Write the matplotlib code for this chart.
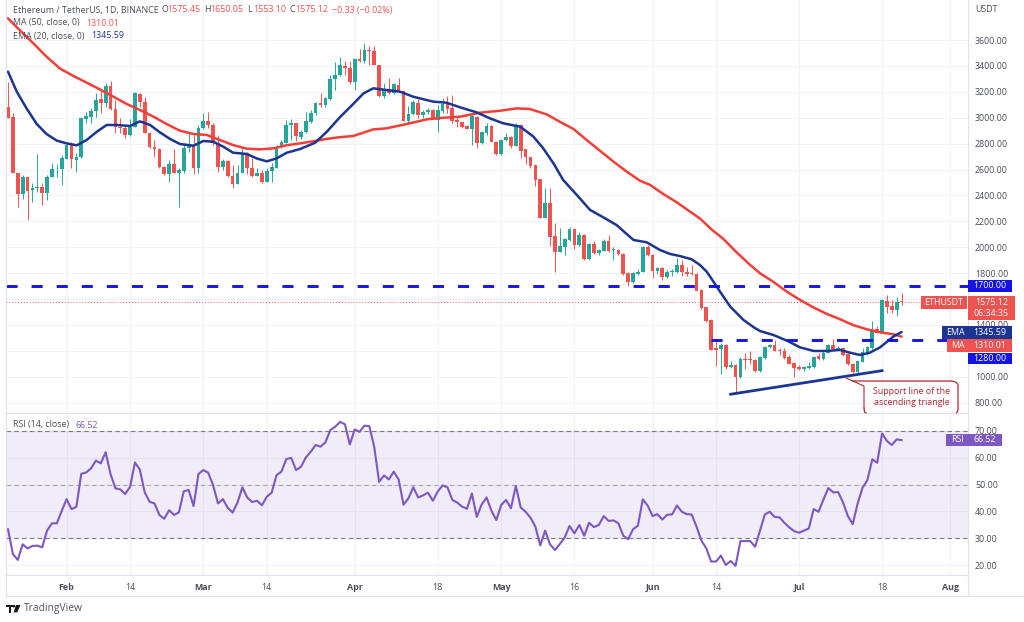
import matplotlib
matplotlib.use('Agg')
import matplotlib.pyplot as plt
from matplotlib.patches import Rectangle, Polygon, Circle, PathPatch
from matplotlib.path import Path

plt.rcParams['font.family'] = ['Open Sans', 'DejaVu Sans']

# candles, one per day from Jan 20
opens = [3085,3003,2570,2408,2540,2439,2455,2462,2421,2545,
         2601,2605,2681,2789,2673,2694,2993,3008,3054,3142,
         3114,3245,3065,2926,2918,2866,2926,3183,3121,2885,
         2776,2758,2617,2565,2640,2576,2591,2763,2789,2609,
         2918,2974,2944,2802,2622,2666,2550,2488,2576,2725,
         2609,2553,2570,2506,2590,2614,2771,2807,2944,2957,
         2854,2892,2967,3039,3116,3098,3142,3296,3330,3399,
         3386,3276,3453,3438,3523,3517,3407,3168,3224,3188,
         3253,3206,2977,3025,3116,3021,3047,3059,2982,3052,
         3111,3077,2982,2964,2933,2915,3008,2802,2885,2938,
         2815,2720,2825,2854,2782,2944,2755,2694,2635,2524,
         2228,2344,2087,1961,2005,2056,2143,2017,2095,1912,
         2022,1953,1974,2048,1976,1979,1948,1799,1729,1791,
         1812,2005,1940,1819,1837,1773,1808,1812,1863,1812,
         1804,1794,1670,1537,1439,1220,1212,1246,1073,1092,
         996,1135,1135,1130,1048,1145,1228,1246,1205,1200,
         1150,1104,1073,1058,1067,1073,1160,1135,1187,1246,
         1212,1220,1174,1099,1035,1115,1191,1220,1367,1341,
         1588,1547,1516,1575.45]
highs = [3278,3034,2570,2558,2540,2498,2720,2498,2558,2648,
         2640,2712,2815,2815,2725,3008,3047,3072,3188,3214,
         3265,3286,3137,2995,2944,2987,3195,3188,3162,2893,
         2828,2764,2627,2673,2756,2610,2802,2879,2866,2944,
         3039,3047,2962,2866,2679,2673,2635,2635,2776,2738,
         2686,2609,2596,2609,2648,2789,2828,2982,2990,2962,
         2905,3047,3060,3124,3188,3162,3330,3433,3470,3440,
         3440,3465,3530,3580,3555,3555,3407,3265,3305,3265,
         3310,3210,3090,3140,3145,3060,3075,3070,3100,3150,
         3165,3175,3000,2970,2940,3020,3015,2895,2960,2945,
         2820,2835,2885,2860,2960,2955,2760,2700,2640,2530,
         2460,2455,2190,2145,2070,2155,2150,2120,2100,2035,
         2050,1990,2060,2095,2000,1985,1955,1805,1805,1830,
         2010,2015,1945,1850,1850,1825,1830,1920,1902,1850,
         1860,1800,1680,1540,1445,1285,1260,1255,1120,1100,
         1150,1185,1200,1140,1160,1240,1255,1285,1220,1220,
         1170,1110,1090,1080,1110,1160,1180,1195,1255,1290,
         1235,1230,1180,1105,1125,1225,1235,1430,1395,1600,
         1635,1590,1615,1650.05]
lows = [2995,2570,2308,2370,2210,2352,2430,2326,2365,2540,
        2545,2480,2680,2610,2578,2690,2957,2962,3003,3034,
        3085,3060,2880,2885,2841,2860,2925,3085,2880,2769,
        2699,2610,2558,2501,2575,2308,2570,2738,2563,2576,
        2915,2918,2790,2578,2596,2545,2455,2485,2570,2565,
        2545,2550,2498,2500,2506,2609,2764,2802,2828,2823,
        2833,2885,2957,3021,3085,3085,3137,3214,3320,3330,
        3258,3214,3430,3425,3410,3405,3160,3150,3180,3180,
        3195,2975,2960,3020,3000,3000,3025,2990,2890,3040,
        3040,2960,2930,2920,2910,2790,2770,2795,2870,2810,
        2715,2715,2820,2770,2780,2690,2640,2610,2470,2225,
        2225,2010,1805,1960,1943,2050,1990,2010,1905,1905,
        1945,1940,1970,1965,1905,1940,1785,1700,1725,1785,
        1810,1930,1765,1790,1745,1760,1780,1800,1780,1780,
        1785,1660,1525,1425,1205,1080,1020,1060,1065,880,
        990,1060,1100,1040,1040,1140,1220,1195,1170,1140,
        1095,1000,1050,1045,1060,1065,1130,1130,1180,1205,
        1205,1160,1090,1030,1025,1110,1170,1215,1335,1335,
        1490,1490,1470,1553.10]
closes = [2995,2570,2408,2545,2434,2457,2462,2421,2545,2601,
          2605,2686,2789,2679,2699,2995,3013,3054,3137,3114,
          3245,3065,2926,2918,2866,2931,3188,3121,2885,2776,
          2758,2622,2565,2640,2576,2596,2763,2782,2609,2918,
          2977,2944,2802,2622,2668,2550,2488,2576,2730,2609,
          2553,2570,2506,2591,2617,2776,2815,2944,2957,2859,
          2892,2977,3039,3116,3098,3150,3296,3330,3407,3386,
          3276,3453,3438,3523,3515,3407,3168,3224,3188,3260,
          3201,2977,3029,3119,3021,3047,3059,2995,3059,3106,
          3067,2977,2964,2926,2915,3013,2802,2890,2938,2815,
          2720,2828,2854,2782,2944,2745,2694,2627,2520,2228,
          2344,2082,1961,2010,2061,2143,2017,2095,1912,2025,
          1953,1979,2048,1974,1984,1945,1791,1729,1799,1812,
          2005,1940,1819,1837,1773,1812,1820,1860,1812,1794,
          1791,1665,1529,1431,1207,1205,1246,1073,1092,996,
          1135,1132,1128,1048,1150,1228,1246,1200,1197,1143,
          1099,1071,1058,1073,1084,1156,1140,1187,1246,1212,
          1223,1169,1097,1035,1120,1194,1228,1362,1341,1593,
          1542,1516,1580,1575.12]

ma_days = [0,2.5,5.2,7.9,10.6,13.4,16.1,18.8,21.6,24.3,27,29.8,32.5,35.2,38,40.7,43.4,46.1,48.9,51.6,54.3,57,59.8,62.5,65.2,
           68,70.7,74.8,77.5,81.6,85.7,88.5,92.6,96.7,100.8,104.2,106.9,110.3,113,115.8,118.5,121.2,124,126.7,129.4,
           131.5,134.2,137,139.7,141.7,144.1,146.5,149.2,152,154,156.7,159.5,162.2,165,167.7,170.4,173,175.9,178.6,181.3,183]
ma_vals = [3767,3672,3574,3471,3381,3322,3271,3219,3162,3106,3060,3008,2951,2900,2874,2867,2828,2789,2761,2756,2763,2787,2802,2818,2836,
           2850,2859,2910,2918,2951,2987,2998,3008,3039,3054,3072,3067,3026,2969,2913,2828,2746,2661,2584,2514,
           2481,2411,2346,2274,2222,2137,2064,1961,1863,1799,1734,1657,1593,1534,1485,1444,1400,1366,1343,1328,1310.01]
ema_days = [0,1.8,3.8,5.9,7.9,10,12,14.1,16.1,18.2,20.2,22.3,25,27,29.1,31.1,33.2,35.2,38,40,42,44.1,46.1,48.9,50.9,53,55,57.1,59.8,62.9,65.3,
            68,70.7,72.8,74.8,77.5,80.3,83,87.1,89.8,92.6,96,98.7,101.4,104.9,107.6,109.6,111.7,113.7,116.5,119.2,121.9,124.6,128.1,130.8,
            133.5,135.6,137.6,140,141.7,143.1,144.1,145.8,147.9,150.6,152.8,154,156.7,159.5,162.2,165,167.7,170.4,172.4,174.5,176.5,178.6,181.3,183]
ema_vals = [3356,3201,3072,2951,2874,2823,2802,2787,2828,2892,2944,2944,2936,2972,2944,2887,2836,2797,2784,2820,2815,2776,2730,2720,2686,2663,2686,2730,2758,2807,2892,
            3005,3106,3188,3227,3214,3201,3162,3124,3116,3080,3041,2995,2957,2931,2854,2764,2648,2519,2403,2288,2231,2172,2056,2038,
            1979,1948,1932,1907,1863,1811,1755,1658,1542,1439,1380,1353,1323,1279,1227,1199,1199,1207,1186,1168,1186,1227,1310,1345.59]

rsi = [33.4,24.2,22,27.8,26.3,27.2,27.3,26.7,32.9,35.6,
       35.6,40.2,44.6,40.9,41.7,54,54.5,56,58.9,57.9,
       62,53.9,48.6,48.2,46.5,49.2,58.2,55.6,47.1,43.6,
       43,38.7,37.3,40.5,38.7,39.7,47.5,48,42,53.9,
       55.4,54.4,49.8,43,44.6,41.4,39.6,43.3,49,45.2,
       43.5,44,42.3,45.5,47,53.5,54.8,59.5,59.9,55.4,
       56.6,60.1,62.2,64.7,64.1,65.7,70.2,71.5,73.3,72.4,
       64.9,70.5,69.6,71.9,71.7,64,51,53.4,51.9,54.8,
       51.9,42.5,44.9,49,45.2,46,47,44,47.4,49.7,
       49,44.3,43.3,41.8,41,46.7,38,42.6,45.2,40.3,
       36.8,42.4,44.3,41.2,49.5,41.5,39.9,37.7,34.4,27.4,
       32.9,27.8,25.7,27.9,30.3,34.6,31.9,35,31,35.8,
       34.2,35,38.3,36.5,36.7,35.6,31,29.7,33.4,34.7,
       44.5,42.2,38.3,39,37,38.8,38.9,42.2,39.9,39,
       38.9,34.4,29.2,26.3,21.4,21.4,23.6,20.1,21.6,19.8,
       29,29,29,26.9,32.9,38.9,39.9,38,37.8,35.8,
       34.1,32.7,32.1,32.9,33.7,40.9,39.9,44.5,48.7,47.1,
       47.2,43.4,38.3,35.3,43,48.8,51.7,59.4,58.1,69,
       66.2,64.7,66.8,66.52]

month_ticks = [12, 25, 40, 53, 71, 88, 101, 116, 132, 145, 162, 179, 193]
month_labels = ['Feb', '14', 'Mar', '14', 'Apr', '18', 'May', '16', 'Jun', '14', 'Jul', '18', 'Aug']
price_ticks = [800, 1000, 1200, 1400, 1600, 1800, 2000, 2200, 2400, 2600, 2800, 3000, 3200, 3400, 3600]
rsi_ticks = [20, 30, 40, 50, 60, 70]
resistance = 1700
neckline = 1280
last_price = 1575.12
support_days = [148, 179]
support_vals = [865, 1047]

GREEN = '#26a69a'
RED = '#ef5350'
MA_RED = '#f23f38'
NAVY = '#1c3593'
BLUE = '#1414e6'
PURPLE = '#7e57c2'
GRID = '#f2f3f7'
EDGE = '#e0e3eb'
TEXT = '#4a4e5a'

W, H = 1024, 622
fig = plt.figure(figsize=(W / 100, H / 100), dpi=100, facecolor='w')


def pane(x0, y0, x1, y1):
    return fig.add_axes([x0 / W, 1 - y1 / H, (x1 - x0) / W, (y1 - y0) / H])


ax = pane(6, 0, 968, 413)
ax2 = pane(6, 413, 968, 575)
xlim = (-0.41, 196.6)

for a in (ax, ax2):
    a.set_xlim(*xlim)
    a.set_axisbelow(True)
    a.grid(True, color=GRID, lw=0.8)
    a.yaxis.tick_right()
    a.set_xticks(month_ticks)
    a.tick_params(length=0, labelsize=6.4, labelcolor=TEXT, pad=5)
    for s in a.spines.values():
        s.set_color(EDGE)
        s.set_linewidth(0.8)

# price pane
ax.set_ylim(720, 3909)
ax.set_yticks(price_ticks)
ax.set_yticklabels(['' if p in (1200, 1600) else '%.2f' % p for p in price_ticks])
ax.tick_params(axis='x', labelbottom=False)
ax.spines['top'].set_visible(False)

days = range(len(closes))
colors = [GREEN if c >= o else RED for o, c in zip(opens, closes)]
ax.vlines(days, lows, highs, colors=colors, lw=0.7, zorder=2)
ax.bar(days, [max(abs(c - o), 6) for o, c in zip(opens, closes)],
       bottom=[min(o, c) for o, c in zip(opens, closes)], width=0.76, color=colors, zorder=3)

DASH = (0, (3.8, 4.8))
ax.plot(ma_days, ma_vals, color=MA_RED, lw=1.8, zorder=4, solid_capstyle='round')
ax.plot(ema_days, ema_vals, color=NAVY, lw=1.8, zorder=5, solid_capstyle='round')
ax.axhline(last_price, color=RED, lw=0.7, ls=(0, (1, 2)), zorder=1)
ax.axhline(resistance, color=BLUE, lw=2.1, ls=DASH, zorder=6)
ax.plot([144, xlim[1]], [neckline, neckline], color=BLUE, lw=2.1, ls=DASH, zorder=6)
ax.plot(support_days, support_vals, color=NAVY, lw=2.0, zorder=6)

# rsi pane
ax2.set_ylim(16.4, 76.6)
ax2.set_yticks(rsi_ticks)
ax2.set_yticklabels(['%.2f' % v for v in rsi_ticks])
ax2.set_xticklabels(month_labels)
for lab in ax2.get_xticklabels():
    if lab.get_text() in ('Feb', 'Mar', 'Apr', 'May', 'Jun', 'Jul', 'Aug'):
        lab.set_fontweight('bold')
ax2.tick_params(axis='x', pad=6)
ax2.axhspan(30, 70, color=PURPLE, alpha=0.11, lw=0, zorder=1)
for lvl, col in ((70, '#787b86'), (50, '#a5a7b0'), (30, '#787b86')):
    ax2.axhline(lvl, color=col, lw=0.8, ls=(0, (4, 3)), zorder=2)
ax2.plot(days, rsi, color=PURPLE, lw=1.5, zorder=3)

# overlay in image pixels for labels and the note
ov = fig.add_axes([0, 0, 1, 1], zorder=10)
ov.set_xlim(0, W)
ov.set_ylim(H, 0)
ov.axis('off')
ov.patch.set_alpha(0)

ov.plot([6, 6], [0, 596], color=EDGE, lw=0.8)
ov.plot([6, 1024], [596, 596], color=EDGE, lw=0.8)
ov.plot([968, 968], [575, 596], color=EDGE, lw=0.8)


def label(x, y, s, color=TEXT, size=6.4, ha='left', weight='normal'):
    ov.text(x, y, s, color=color, fontsize=size, ha=ha, va='center', fontweight=weight)


def tag(x0, x1, y0, y1, color, s, s2=None):
    ov.add_patch(Rectangle((x0, y0), x1 - x0, y1 - y0, facecolor=color, edgecolor='none'))
    if s2 is None:
        label((x0 + x1) / 2, (y0 + y1) / 2, s, color='w', ha='center')
    else:
        label((x0 + x1) / 2, y0 + 6.5, s, color='w', ha='center')
        label((x0 + x1) / 2, y0 + 17, s2, color='w', ha='center')


label(13, 10, 'Ethereum / TetherUS, 1D, BINANCE')
for x, k, v in [(161, 'O', '1575.45'), (204, 'H', '1650.05'), (247, 'L', '1553.10'), (289, 'C', '1575.12')]:
    label(x, 10, k)
    label(x + 6, 10, v, color=RED)
label(332, 10, '−0.33 (−0.02%)', color=RED)
label(13, 23, 'MA (50, close, 0)')
label(86, 23, '1310.01', color=RED)
label(13, 36, 'EMA (20, close, 0)')
label(91, 36, '1345.59', color=NAVY)
label(13, 425, 'RSI (14, close)')
label(76, 425, '66.52', color=PURPLE)
label(975, 9, 'USDT')

tag(968, 1012, 279.5, 292, BLUE, '1700.00')
tag(921, 967, 296, 309, RED, 'ETHUSDT')
tag(968, 1015, 296, 319.5, RED, '1575.12', '06:34:35')
tag(942, 968, 326, 339, NAVY, 'EMA')
tag(968, 1012, 326, 339, NAVY, '1345.59')
tag(947, 968, 339, 352, RED, 'MA')
tag(968, 1012, 339, 352, RED, '1310.01')
tag(968, 1012, 352.5, 364, BLUE, '1280.00')
tag(946, 968, 434, 446, PURPLE, 'RSI')
tag(968, 1002, 434, 446, PURPLE, '66.52')

# note under the support line
NOTE = '#b22833'
ov.plot([846, 864, 864], [378, 386, 408], color=NOTE, lw=0.8)
note_path = Path([(852, 381), (860, 381), (868, 381), (950, 381), (957, 381), (958, 385),
                  (958, 409), (958, 412), (956, 413)],
                 [Path.MOVETO, Path.LINETO, Path.LINETO, Path.LINETO, Path.CURVE3, Path.CURVE3,
                  Path.LINETO, Path.CURVE3, Path.CURVE3])
ov.add_patch(PathPatch(note_path, fc='none', ec=NOTE, lw=0.9))
ov.plot([864, 864.5, 866], [408, 412, 413], color=NOTE, lw=0.9)
label(912, 397, 'Support line of the\nascending triangle', color=NOTE, size=6.4, ha='center')

# TradingView mark
ov.add_patch(Rectangle((6, 605), 6.5, 2.2, fc='#131722', ec='none'))
ov.add_patch(Rectangle((8.6, 605), 2.6, 7.6, fc='#131722', ec='none'))
ov.add_patch(Circle((14, 606.2), 1.3, fc='#131722', ec='none'))
ov.add_patch(Polygon([(16, 605), (20.5, 605), (17.2, 612.4), (13.6, 612.4)], fc='#131722', ec='none'))
label(24, 609, 'TradingView', color='#50535e', size=7.4)

fig.savefig('out.png', dpi=100)
